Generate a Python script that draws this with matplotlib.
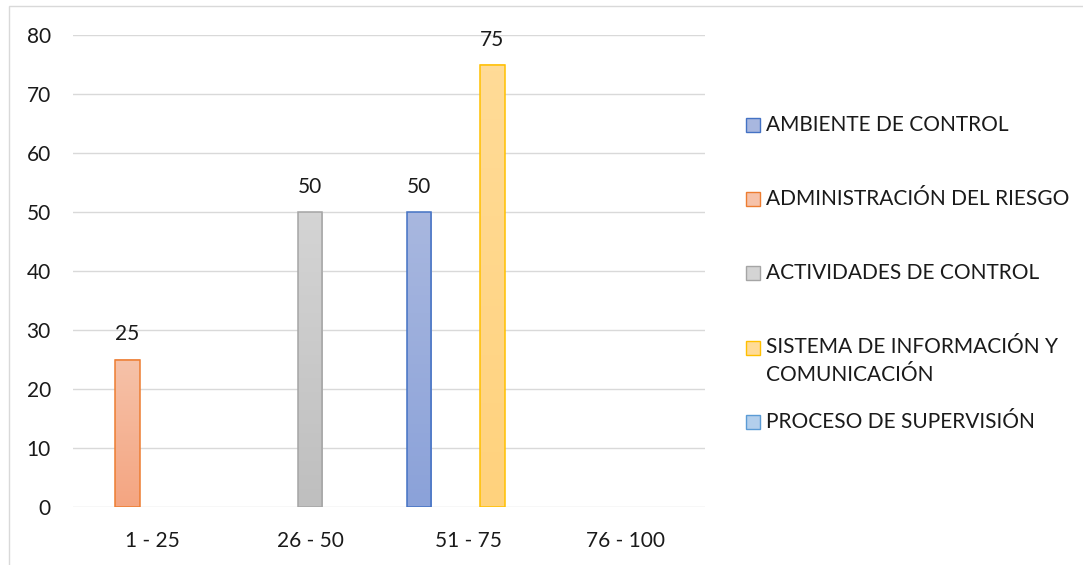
import numpy as np
import matplotlib
matplotlib.use("Agg")
import matplotlib.pyplot as plt
from matplotlib.colors import LinearSegmentedColormap
from matplotlib.patches import Rectangle

# Datos: rangos de puntaje y numero de componentes por rango
rangos = ["1 - 25", "26 - 50", "51 - 75", "76 - 100"]
componentes = ["AMBIENTE DE CONTROL", "ADMINISTRACIÓN DEL RIESGO",
               "ACTIVIDADES DE CONTROL",
               "SISTEMA DE INFORMACIÓN Y\nCOMUNICACIÓN",
               "PROCESO DE SUPERVISIÓN"]
ambiente = [np.nan, np.nan, 50, np.nan]
riesgo = [25, np.nan, np.nan, np.nan]
actividades = [np.nan, 50, np.nan, np.nan]
informacion = [np.nan, np.nan, 75, np.nan]
supervision = [np.nan, np.nan, np.nan, np.nan]
y_ticks = [0, 10, 20, 30, 40, 50, 60, 70, 80]

series = [ambiente, riesgo, actividades, informacion, supervision]
# (borde, color arriba, color abajo) del degradado de cada serie
estilos = [("#4472C4", "#A8B7DF", "#8BA2D9"),
           ("#ED7D31", "#F6C2A9", "#F4A581"),
           ("#A5A5A5", "#D4D4D4", "#BFBFBF"),
           ("#FFC000", "#FFDB97", "#FFD27D"),
           ("#5B9BD5", "#B3CFEC", "#9BBEE5")]

plt.rcParams["font.family"] = ["Lato", "DejaVu Sans"]
TXT = "#1A1A1A"
W, H = 1083, 565
fig = plt.figure(figsize=(W / 100, H / 100), dpi=100)
ax = fig.add_axes([73 / W, 1 - 507 / H, 632 / W, 472 / H])

# marco exterior del grafico (solo arriba e izquierda visibles)
fig.patches.append(Rectangle((9 / W, -0.1), 1.2, 1 - 6.5 / H + 0.1,
                             transform=fig.transFigure, fill=False,
                             edgecolor="#D9D9D9", linewidth=1.0))

x = np.arange(len(rangos))
ancho = 0.155
for i, (vals, (borde, c_top, c_bot)) in enumerate(zip(series, estilos)):
    vals = np.array(vals, dtype=float)
    mask = ~np.isnan(vals)
    if not mask.any():
        continue
    offs = x[mask] + (i - 2) * ancho
    bars = ax.bar(offs, vals[mask], width=ancho, facecolor="none",
                  edgecolor=borde, linewidth=1.1, zorder=3)
    cmap = LinearSegmentedColormap.from_list("g%d" % i, [c_bot, c_top])
    grad = np.linspace(0, 1, 64).reshape(-1, 1)
    for b in bars:
        x0, y0 = b.get_x(), b.get_y()
        ax.imshow(grad, extent=[x0, x0 + b.get_width(), y0, y0 + b.get_height()],
                  origin="lower", aspect="auto", cmap=cmap, zorder=2)
        ax.annotate("%g" % b.get_height(),
                    (x0 + b.get_width() / 2, y0 + b.get_height()),
                    xytext=(0, 18), textcoords="offset points",
                    ha="center", va="center", fontsize=15, color=TXT)

ax.set_xlim(-0.5, len(rangos) - 0.5)
ax.set_ylim(0, 80)
ax.set_xticks(x)
ax.set_xticklabels(rangos)
ax.set_yticks(y_ticks)
ax.tick_params(length=0, labelsize=15, colors=TXT)
ax.tick_params(axis="y", pad=16)
ax.tick_params(axis="x", pad=17)
for s in ax.spines.values():
    s.set_visible(False)
ax.yaxis.grid(True, color="#D9D9D9", linewidth=1.0, zorder=0)
ax.set_axisbelow(True)

# leyenda dibujada a mano a la derecha (y en pixeles de cada fila)
filas_y = [125, 199, 273, 348, 422]
for nombre, (borde, c_top, c_bot), yp in zip(componentes, estilos, filas_y):
    fig.patches.append(Rectangle((746 / W, 1 - (yp + 7) / H), 14 / W, 14 / H,
                                 transform=fig.transFigure, facecolor=c_top,
                                 edgecolor=borde, linewidth=1.0))
    if "\n" in nombre:
        fig.text(766 / W, 1 - (yp - 11) / H, nombre, ha="left", va="top",
                 fontsize=15, color=TXT, linespacing=1.5)
    else:
        fig.text(766 / W, 1 - yp / H, nombre, ha="left", va="center",
                 fontsize=15, color=TXT)

fig.savefig("out.png", dpi=100)
